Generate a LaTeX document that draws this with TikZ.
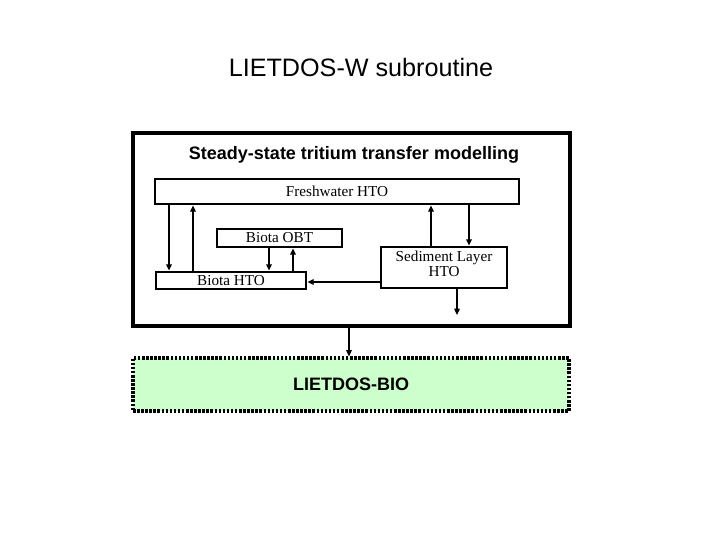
\documentclass[tikz,border=0pt]{standalone}
\usepackage{fontspec}
\setmainfont{Liberation Serif}
\setsansfont{Liberation Sans}
\usetikzlibrary{positioning,arrows.meta}

\begin{document}
\begin{tikzpicture}[x=0.025cm, y=-0.025cm,
			box/.style={draw, line width=2pt, rectangle, inner sep=0pt, align=center, font=\fontsize{10.8pt}{11pt}\selectfont},
			arrow/.style={-{Triangle[length=4.5pt,width=4pt]}, line width=0.9pt}]
			
			\useasboundingbox (0,0) rectangle (720,540);
			
			\node[font=\sffamily\fontsize{17.9pt}{20pt}\selectfont] (title) at (361,67) {LIETDOS-W subroutine};
			
			\node[draw, line width=2.2pt, minimum width={437*0.025cm}, minimum height={193*0.025cm}] (outer) at (351.5,229.5) {};
			\node[font=\sffamily\bfseries\fontsize{12.8pt}{14pt}\selectfont] (model) at (354,155) {Steady-state tritium transfer modelling};
			
			\node[box, minimum width={364*0.025cm}, minimum height={25*0.025cm}] (fresh) at (337,191.5) {Freshwater HTO};
			\node[box, minimum width={125*0.025cm}, minimum height={18*0.025cm}] (obt) at (279.5,238) {Biota OBT};
			\node[box, minimum width={150*0.025cm}, minimum height={17*0.025cm}, text depth=-1pt] (bhto) at (231,280.5) {Biota HTO};
			\node[box, minimum width={126*0.025cm}, minimum height={41*0.025cm}, text depth=5pt] (sed) at (444,267.5) {Sediment Layer\\HTO};
			\coordinate (sedout) at (457,315);
			
			\node[draw, line width=2.2pt, dash pattern=on 1.8pt off 1.1pt, fill={rgb,255:red,204;green,255;blue,204},
				minimum width={436*0.025cm}, minimum height={53*0.025cm},
				font=\sffamily\bfseries\fontsize{12.8pt}{14pt}\selectfont] (bio) at (351,384.5) {LIETDOS-BIO};
			
			\draw[arrow] (169,0 |- fresh.south) -- (169,0 |- bhto.north);
			\draw[arrow] (193,0 |- bhto.north) -- (193,0 |- fresh.south);
			\draw[arrow] (269,0 |- obt.south) -- (269,0 |- bhto.north);
			\draw[arrow] (293,0 |- bhto.north) -- (293,0 |- obt.south);
			\draw[arrow] (431,0 |- sed.north) -- (431,0 |- fresh.south);
			\draw[arrow] (469,0 |- fresh.south) -- (469,0 |- sed.north);
			\draw[arrow] (sed.west |- 0,282) -- (bhto.east |- 0,282);
			\draw[arrow] (sedout |- sed.south) -- (sedout);
			\draw[arrow] (349,0 |- outer.south) -- (349,0 |- bio.north);
			
		\end{tikzpicture}
\end{document}
